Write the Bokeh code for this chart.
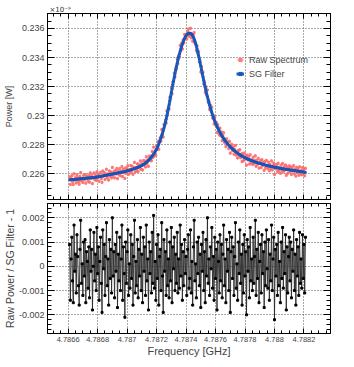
import numpy as np
from bokeh.plotting import figure
from bokeh.layouts import column
from bokeh.models import (Range1d, LinearAxis, SingleIntervalTicker, CustomJSTickFormatter,
                          Legend, LegendItem)
from bokeh.core.properties import value
from bokeh.embed import file_html
from bokeh.resources import INLINE

# ---------------- data ----------------
freq_start = 4.78661   # GHz
freq_step = 0.000005   # GHz
n_points = 321

# SG-filtered power, in units of 1e-5 x 1e-9 W
sg_power_e5 = [
    22559, 22559, 22560, 22560, 22561, 22561, 22562, 22562, 22563, 22563,
    22564, 22564, 22565, 22565, 22566, 22566, 22567, 22567, 22568, 22568,
    22569, 22569, 22570, 22570, 22571, 22571, 22572, 22572, 22573, 22573,
    22574, 22574, 22575, 22575, 22576, 22577, 22578, 22578, 22579, 22580,
    22581, 22582, 22583, 22584, 22585, 22586, 22587, 22588, 22589, 22590,
    22591, 22592, 22593, 22594, 22595, 22596, 22597, 22598, 22599, 22600,
    22601, 22602, 22603, 22604, 22605, 22606, 22607, 22608, 22609, 22610,
    22611, 22612, 22613, 22614, 22615, 22616, 22618, 22619, 22621, 22622,
    22624, 22625, 22627, 22628, 22630, 22631, 22633, 22634, 22636, 22638,
    22640, 22642, 22644, 22646, 22648, 22650, 22653, 22655, 22658, 22661,
    22664, 22667, 22671, 22675, 22679, 22683, 22688, 22693, 22698, 22703,
    22709, 22715, 22722, 22729, 22736, 22744, 22752, 22761, 22770, 22781,
    22793, 22806, 22819, 22833, 22848, 22864, 22880, 22897, 22915, 22935,
    22955, 22977, 23000, 23025, 23050, 23076, 23103, 23130, 23158, 23185,
    23213, 23239, 23265, 23290, 23315, 23339, 23362, 23384, 23405, 23424,
    23443, 23460, 23477, 23492, 23507, 23520, 23532, 23541, 23550, 23556,
    23562, 23565, 23568, 23568, 23566, 23562, 23558, 23550, 23540, 23527,
    23513, 23496, 23478, 23457, 23436, 23413, 23390, 23366, 23341, 23316,
    23291, 23267, 23242, 23219, 23195, 23173, 23151, 23131, 23110, 23091,
    23072, 23055, 23037, 23021, 23005, 22991, 22976, 22963, 22950, 22938,
    22926, 22916, 22905, 22895, 22885, 22876, 22867, 22859, 22851, 22844,
    22836, 22829, 22822, 22816, 22809, 22803, 22797, 22792, 22786, 22781,
    22776, 22772, 22767, 22763, 22758, 22754, 22750, 22746, 22742, 22739,
    22735, 22732, 22728, 22725, 22722, 22719, 22716, 22714, 22711, 22709,
    22706, 22704, 22701, 22699, 22697, 22695, 22693, 22691, 22689, 22687,
    22685, 22683, 22681, 22680, 22678, 22677, 22675, 22674, 22672, 22671,
    22669, 22668, 22666, 22665, 22663, 22662, 22660, 22659, 22658, 22657,
    22655, 22654, 22653, 22652, 22651, 22650, 22648, 22647, 22646, 22645,
    22644, 22643, 22642, 22641, 22640, 22639, 22638, 22637, 22636, 22635,
    22634, 22634, 22633, 22632, 22631, 22630, 22629, 22629, 22628, 22627,
    22626, 22626, 22625, 22624, 22623, 22623, 22622, 22621, 22620, 22620,
    22619, 22618, 22617, 22617, 22616, 22615, 22614, 22614, 22613, 22612,
    22611,
]

# Raw Power / SG Filter - 1, in units of 1e-4
ratio_resid_e4 = [
    9, -14, 3, 12, -6, -15, 17, -2, 5, -11,
    13, 4, -8, -16, 7, 19, -7, 1, -12, 10,
    -4, 11, -15, 6, 2, -9, 8, -13, 15, -2,
    7, -18, 0, 14, -6, 5, -10, 16, -3, 8,
    -14, 2, 12, -7, -19, 15, -1, 9, -12, 4,
    18, -8, 3, -16, 11, -5, 7, -11, 20, -4,
    6, -13, 9, -2, 14, -17, 5, -6, 12, -10,
    3, 17, -14, 8, -3, -21, 10, -7, 6, 15,
    -12, 1, -9, 13, -5, 9, -16, 4, 19, -11,
    2, -8, 11, -13, 7, -4, 16, -10, 5, -15,
    12, -2, 8, -12, 17, -6, 3, -18, 10, -3,
    6, -11, 14, -7, 21, -9, 2, -14, 9, -5,
    13, -16, 4, 7, -10, 18, -4, -19, 11, -2,
    6, -12, 15, -8, 3, -13, 10, -6, 16, -15,
    8, -1, 12, -10, 5, -7, 14, -11, 3, -9,
    17, -4, 9, -14, 6, -8, 11, -3, 4, -12,
    7, 13, -9, -5, 15, -11, 2, -16, 8, 19,
    -6, 1, -13, 10, -3, 12, -8, 5, -17, 9,
    -2, 14, -10, 6, -15, 11, -4, 20, -7, 3,
    -12, 8, -1, 16, -9, 4, -14, 12, -5, 7,
    -18, 10, 2, -11, 13, -6, 9, -13, 5, 17,
    -8, 3, -15, 11, -2, 7, -10, 14, -19, 6,
    12, -5, 8, -12, 4, 18, -9, 1, -14, 10,
    -3, 15, -7, 5, -16, 9, -11, 13, -4, 6,
    -20, 11, -2, 8, -13, 16, -6, 3, -10, 12,
    -7, 4, 19, -12, 7, -5, 14, -15, 2, 9,
    -11, 13, -3, 6, -17, 10, -8, 15, -1, -9,
    11, -14, 5, -6, 17, -10, 3, 12, -22, 7,
    -4, 9, -12, 14, -8, 2, -15, 10, -5, 16,
    -9, 6, -3, 13, -18, 8, -11, 4, 12, -6,
    10, -13, 7, -2, 15, -10, 5, -16, 11, -4,
    8, -12, 14, -7, 3, -9, 13, -5, 9, -11,
    12,
]
raw_err = 0.00012  # error bar half-height of raw points [1e-9 W]
exponent_label = ["×10⁻⁹"]

freq = np.round(freq_start + freq_step * np.arange(n_points), 7)
sg = np.array(sg_power_e5) * 1e-5          # [1e-9 W]
resid = np.array(ratio_resid_e4) * 1e-4
raw = sg * (1.0 + resid)

# ---------------- styling helpers ----------------
FONT = "Liberation Sans"
RED = "#ff6a6a"
BLUE = "#1f64c8"
GRID = "#555555"

xr = Range1d(4.78646, 4.78838)

blank = CustomJSTickFormatter(code="return '';")
xfmt = CustomJSTickFormatter(code="return parseFloat(tick.toFixed(4)).toString();")
y1fmt = CustomJSTickFormatter(code="return parseFloat(tick.toFixed(4)).toString();")
y2fmt = CustomJSTickFormatter(code="return parseFloat(tick.toFixed(3)).toString();")


def style_axis(ax, major, minor, labels=True):
    ax.major_tick_in = major
    ax.major_tick_out = 0
    ax.minor_tick_in = minor
    ax.minor_tick_out = 0
    ax.axis_line_color = "black"
    ax.major_tick_line_color = "black"
    ax.minor_tick_line_color = "black"
    if not labels:
        ax.formatter = blank
        ax.major_label_text_font_size = "0px"
        ax.major_label_standoff = 0
        ax.axis_label = None


def base_fig(yr, fh, top, bottom):
    p = figure(frame_width=283, frame_height=fh, x_range=xr, y_range=yr,
               output_backend="svg", toolbar_location=None,
               min_border_left=45, min_border_right=10,
               min_border_top=top, min_border_bottom=bottom)
    p.outline_line_color = "black"
    p.outline_line_width = 1
    p.background_fill_color = "white"
    p.border_fill_color = "white"
    for g in (p.xgrid[0], p.ygrid[0]):
        g.grid_line_color = GRID
        g.grid_line_dash = "1 2"
        g.grid_line_width = 1
    return p


# ---------------- exponent strip above the top panel ----------------
p0 = figure(frame_width=283, frame_height=13, x_range=Range1d(0, 283), y_range=Range1d(0, 13),
            output_backend="svg", toolbar_location=None,
            min_border_left=45, min_border_right=10, min_border_top=0, min_border_bottom=0)
p0.axis.visible = False
p0.grid.visible = False
p0.outline_line_color = None
p0.background_fill_color = "white"
p0.border_fill_color = "white"
p0.text(x=[2], y=[4], text=exponent_label, text_font=value("DejaVu Sans"),
        text_font_size="7px", text_color="#333333", text_baseline="alphabetic")

# ---------------- top panel ----------------
p1 = base_fig(Range1d(0.22424, 0.23703), 186, 0, 2)

xt = SingleIntervalTicker(interval=0.0002, num_minor_ticks=4)
y1t = SingleIntervalTicker(interval=0.002, num_minor_ticks=4)
p1.xaxis[0].ticker = xt
p1.xgrid[0].ticker = xt
p1.yaxis[0].ticker = y1t
p1.ygrid[0].ticker = y1t
style_axis(p1.xaxis[0], 5, 3, labels=False)
ya = p1.yaxis[0]
style_axis(ya, 7, 4)
ya.formatter = y1fmt
ya.major_label_text_font = FONT
ya.major_label_text_font_size = "9px"
ya.major_label_standoff = 3
ya.axis_label = "Power [W]"
ya.axis_label_text_font = FONT
ya.axis_label_text_font_style = "normal"
ya.axis_label_text_font_size = "9px"
ya.axis_label_standoff = 5

ax_r = LinearAxis(ticker=y1t)
style_axis(ax_r, 7, 4, labels=False)
p1.add_layout(ax_r, "right")
ax_t = LinearAxis(ticker=xt)
style_axis(ax_t, 5, 3, labels=False)
p1.add_layout(ax_t, "above")

err = p1.segment(x0=freq, y0=raw - raw_err, x1=freq, y1=raw + raw_err,
                 line_color=RED, line_alpha=0.6, line_width=1)
raw_pts = p1.scatter(freq, raw, marker="square", size=2, fill_color=RED,
                     line_color=RED, alpha=0.8)
sg_line = p1.line(freq, sg, line_color=BLUE, line_width=3)
sg_pts = p1.scatter(freq, sg, marker="square", size=1.5, fill_color="#1a55b5",
                    line_color="#1a55b5")

legend = Legend(items=[LegendItem(label="Raw Spectrum", renderers=[err, raw_pts]),
                       LegendItem(label="SG Filter", renderers=[sg_line, sg_pts])],
                location=(189, 120), padding=0, margin=0, spacing=3,
                glyph_width=8, glyph_height=11, label_height=11, label_standoff=5,
                label_text_font=FONT, label_text_font_size="9px",
                background_fill_alpha=0, border_line_color=None)
p1.add_layout(legend)

# ---------------- bottom panel ----------------
p2 = base_fig(Range1d(-0.00277, 0.00259), 130, 2, 10)
y2t = SingleIntervalTicker(interval=0.001, num_minor_ticks=5)
p2.xaxis[0].ticker = xt
p2.xgrid[0].ticker = xt
p2.yaxis[0].ticker = y2t
p2.ygrid[0].ticker = y2t
xa = p2.xaxis[0]
style_axis(xa, 5, 3)
xa.formatter = xfmt
xa.major_label_text_font = FONT
xa.major_label_text_font_size = "7.5px"
xa.major_label_standoff = 3
xa.axis_label = "Frequency [GHz]"
xa.axis_label_text_font = FONT
xa.axis_label_text_font_style = "normal"
xa.axis_label_text_font_size = "11px"
xa.axis_label_standoff = 0
ya2 = p2.yaxis[0]
style_axis(ya2, 7, 4)
ya2.formatter = y2fmt
ya2.major_label_text_font = FONT
ya2.major_label_text_font_size = "9px"
ya2.major_label_standoff = 3
ya2.axis_label = "Raw Power / SG Filter - 1"
ya2.axis_label_text_font = FONT
ya2.axis_label_text_font_style = "normal"
ya2.axis_label_text_font_size = "10.5px"
ya2.axis_label_standoff = 0

ax_r2 = LinearAxis(ticker=y2t)
style_axis(ax_r2, 7, 4, labels=False)
p2.add_layout(ax_r2, "right")
ax_t2 = LinearAxis(ticker=xt)
style_axis(ax_t2, 5, 3, labels=False)
p2.add_layout(ax_t2, "above")

p2.line(freq, resid, line_color="#2a2a2a", line_width=0.9)
p2.scatter(freq, resid, marker="square", size=2, fill_color="black", line_color="black")

layout = column(p0, p1, p2)
open("out.html", "w").write(file_html(layout, INLINE))
